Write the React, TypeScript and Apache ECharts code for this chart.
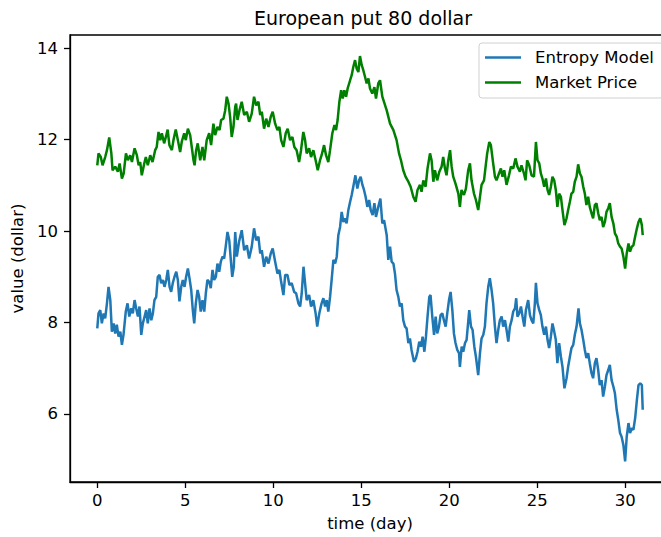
import React, { useEffect, useRef } from "react";
import * as echarts from "echarts";

// Daily values of the 80-dollar European put, [time (day), value (dollar)]
const entropyModel: [number, number][] = [
  [0, 7.87], [0.07, 8.2], [0.17, 8.27], [0.26, 7.98], [0.36, 8.2], [0.45, 8.09], [0.55, 8.42], [0.64, 8.78],
  [0.74, 8.49], [0.83, 7.8], [0.93, 7.98], [1.02, 7.76], [1.11, 7.95], [1.21, 7.69], [1.31, 7.8], [1.4, 7.51],
  [1.49, 7.73], [1.62, 8.24], [1.72, 8.42], [1.82, 8.13], [1.93, 8.31], [2.02, 8.2], [2.12, 8.49], [2.21, 8.31],
  [2.31, 8.13], [2.4, 8.35], [2.5, 7.73], [2.59, 7.98], [2.69, 8.13], [2.78, 8.27], [2.87, 7.98], [2.97, 8.31],
  [3.07, 8.05], [3.16, 8.2], [3.25, 8.49], [3.35, 8.56], [3.44, 9.0], [3.54, 9.04], [3.63, 8.86], [3.73, 8.93],
  [3.82, 8.78], [3.92, 8.93], [4.01, 9.15], [4.11, 8.78], [4.2, 8.67], [4.29, 8.86], [4.39, 9.0], [4.49, 9.11],
  [4.58, 8.93], [4.67, 8.46], [4.77, 8.78], [4.86, 8.93], [4.96, 8.78], [5.05, 9.0], [5.15, 9.18], [5.24, 8.97],
  [5.34, 8.71], [5.43, 8.27], [5.51, 7.98], [5.6, 8.42], [5.7, 8.71], [5.79, 8.56], [5.88, 8.24], [5.98, 8.49],
  [6.08, 8.24], [6.17, 8.64], [6.26, 8.93], [6.36, 8.89], [6.45, 8.75], [6.55, 9.15], [6.64, 8.93], [6.74, 9.0],
  [6.83, 9.29], [6.93, 9.11], [7.02, 9.33], [7.12, 9.44], [7.21, 9.4], [7.3, 9.66], [7.4, 9.98], [7.5, 9.8],
  [7.59, 9.37], [7.67, 9.0], [7.76, 9.22], [7.84, 9.98], [7.93, 9.44], [8.06, 9.77], [8.21, 10.02], [8.35, 9.58],
  [8.5, 9.69], [8.63, 9.4], [8.78, 9.66], [8.91, 10.06], [9.03, 9.8], [9.16, 9.88], [9.26, 9.51], [9.35, 9.58],
  [9.48, 9.22], [9.6, 9.44], [9.73, 9.29], [9.86, 9.51], [9.97, 9.62], [10.11, 9.33], [10.24, 9.07], [10.35, 9.15],
  [10.45, 8.89], [10.58, 8.6], [10.68, 9.04], [10.81, 9.04], [10.92, 8.82], [11.05, 8.86], [11.19, 8.67], [11.3, 8.64],
  [11.43, 8.42], [11.53, 8.35], [11.62, 8.64], [11.72, 9.22], [11.81, 8.86], [11.9, 8.49], [12.04, 8.6], [12.15, 8.35],
  [12.28, 8.49], [12.41, 8.2], [12.5, 7.91], [12.62, 8.2], [12.75, 8.42], [12.85, 8.53], [12.95, 8.35], [13.04, 8.49],
  [13.13, 8.24], [13.23, 8.56], [13.32, 8.93], [13.42, 9.37], [13.52, 9.29], [13.61, 9.44], [13.7, 9.91], [13.8, 10.09],
  [13.89, 10.42], [13.99, 10.2], [14.08, 10.28], [14.17, 10.17], [14.27, 10.46], [14.37, 10.64], [14.46, 10.79], [14.55, 10.97],
  [14.67, 11.22], [14.78, 10.93], [14.88, 11.11], [14.97, 11.19], [15.07, 11.01], [15.16, 10.9], [15.25, 10.75], [15.35, 10.53],
  [15.45, 10.68], [15.54, 10.46], [15.65, 10.35], [15.75, 10.61], [15.84, 10.31], [15.97, 10.53], [16.09, 10.71], [16.2, 10.17],
  [16.3, 10.24], [16.45, 9.91], [16.54, 9.37], [16.64, 9.66], [16.73, 9.33], [16.83, 9.29], [16.92, 9.07], [17.01, 8.71],
  [17.11, 8.56], [17.2, 8.35], [17.3, 8.42], [17.39, 8.05], [17.49, 7.91], [17.58, 7.87], [17.68, 7.55], [17.77, 7.65],
  [17.86, 7.4], [18.0, 7.14], [18.11, 7.22], [18.2, 7.36], [18.3, 7.58], [18.4, 7.47], [18.49, 7.69], [18.59, 7.36],
  [18.68, 7.69], [18.77, 8.13], [18.87, 8.56], [18.94, 8.6], [19.04, 8.13], [19.14, 7.73], [19.23, 8.13], [19.32, 7.76],
  [19.42, 7.91], [19.51, 8.16], [19.61, 8.2], [19.7, 8.05], [19.8, 7.91], [19.89, 8.2], [19.99, 8.49], [20.08, 8.67],
  [20.18, 8.27], [20.27, 7.76], [20.36, 7.55], [20.46, 7.4], [20.56, 7.33], [20.61, 7.03], [20.71, 7.47], [20.8, 7.36],
  [20.9, 7.55], [20.99, 7.62], [21.09, 8.05], [21.14, 8.27], [21.24, 7.91], [21.33, 7.84], [21.43, 7.47], [21.52, 7.25],
  [21.65, 6.85], [21.75, 7.33], [21.84, 7.65], [21.94, 7.73], [22.03, 7.91], [22.12, 8.42], [22.22, 8.78], [22.31, 8.97],
  [22.41, 8.71], [22.5, 8.42], [22.6, 7.91], [22.69, 7.55], [22.79, 7.84], [22.88, 8.05], [22.98, 8.13], [23.07, 7.91],
  [23.17, 8.05], [23.26, 7.84], [23.36, 7.58], [23.45, 7.91], [23.55, 8.05], [23.64, 8.24], [23.74, 8.31], [23.81, 8.53],
  [23.88, 8.13], [23.98, 8.2], [24.08, 8.35], [24.17, 8.13], [24.27, 7.91], [24.36, 8.27], [24.49, 8.49], [24.59, 8.16],
  [24.68, 8.05], [24.78, 7.98], [24.87, 8.42], [24.93, 8.87], [25.02, 8.42], [25.12, 8.27], [25.21, 8.16], [25.3, 7.91],
  [25.4, 7.73], [25.5, 7.91], [25.59, 7.62], [25.68, 7.44], [25.78, 7.69], [25.87, 7.98], [25.97, 7.8], [26.06, 7.62],
  [26.15, 7.11], [26.25, 7.55], [26.35, 7.25], [26.44, 7.03], [26.55, 6.56], [26.67, 6.78], [26.76, 7.03], [26.86, 7.25],
  [26.95, 7.44], [27.05, 7.51], [27.14, 7.73], [27.24, 7.91], [27.35, 8.31], [27.43, 7.98], [27.52, 7.84], [27.62, 7.62],
  [27.71, 7.4], [27.8, 7.22], [27.9, 7.33], [27.99, 7.11], [28.09, 6.89], [28.18, 6.78], [28.28, 7.11], [28.37, 7.22],
  [28.47, 6.96], [28.56, 6.63], [28.66, 6.74], [28.75, 6.38], [28.85, 6.6], [28.94, 6.85], [29.04, 6.96], [29.13, 7.07],
  [29.23, 6.74], [29.33, 6.6], [29.42, 6.45], [29.52, 6.09], [29.61, 5.87], [29.71, 5.58], [29.8, 5.5], [29.9, 5.32],
  [30.0, 4.96], [30.09, 5.5], [30.19, 5.8], [30.28, 5.58], [30.38, 5.69], [30.47, 5.65], [30.57, 5.91], [30.67, 6.31],
  [30.76, 6.63], [30.86, 6.67], [30.95, 6.63], [31.0, 6.09],
];

const marketPrice: [number, number][] = [
  [0, 11.44], [0.07, 11.7], [0.2, 11.62], [0.3, 11.44], [0.45, 11.62], [0.55, 11.77], [0.68, 12.05], [0.8, 11.7],
  [0.87, 11.33], [1.02, 11.41], [1.17, 11.3], [1.27, 11.48], [1.4, 11.15], [1.5, 11.26], [1.63, 11.7], [1.74, 11.55],
  [1.87, 11.66], [1.97, 11.51], [2.12, 11.81], [2.25, 11.66], [2.35, 11.44], [2.44, 11.51], [2.53, 11.22], [2.67, 11.48],
  [2.76, 11.62], [2.87, 11.44], [3.01, 11.66], [3.14, 11.51], [3.29, 11.77], [3.38, 11.84], [3.48, 12.17], [3.58, 11.99],
  [3.67, 12.14], [3.8, 11.92], [3.9, 12.06], [4.0, 12.22], [4.1, 11.88], [4.24, 11.77], [4.33, 11.99], [4.46, 12.22],
  [4.58, 11.99], [4.71, 11.73], [4.8, 11.95], [4.94, 12.14], [5.03, 11.99], [5.15, 12.24], [5.28, 12.1], [5.37, 11.84],
  [5.47, 11.55], [5.53, 11.44], [5.62, 11.77], [5.71, 11.92], [5.85, 11.55], [5.98, 11.84], [6.08, 11.55], [6.22, 11.99],
  [6.36, 12.14], [6.47, 11.88], [6.6, 12.35], [6.7, 12.1], [6.83, 12.28], [6.95, 12.21], [7.04, 12.43], [7.17, 12.46],
  [7.27, 12.64], [7.36, 12.94], [7.46, 12.79], [7.55, 12.5], [7.64, 12.06], [7.74, 12.28], [7.84, 12.72], [7.89, 12.79],
  [7.97, 12.43], [8.08, 12.64], [8.21, 12.83], [8.35, 12.54], [8.5, 12.61], [8.63, 12.39], [8.78, 12.57], [8.91, 12.94],
  [9.03, 12.75], [9.16, 12.83], [9.26, 12.54], [9.35, 12.61], [9.48, 12.24], [9.6, 12.46], [9.73, 12.28], [9.86, 12.5],
  [9.97, 12.61], [10.11, 12.35], [10.24, 12.21], [10.35, 12.28], [10.45, 11.99], [10.58, 11.84], [10.71, 12.14], [10.82, 12.24],
  [10.96, 11.99], [11.09, 12.06], [11.2, 11.84], [11.33, 11.77], [11.47, 11.51], [11.58, 11.77], [11.71, 12.17], [11.81, 11.99],
  [11.9, 11.7], [12.04, 11.81], [12.15, 11.62], [12.28, 11.77], [12.41, 11.55], [12.53, 11.33], [12.66, 11.55], [12.75, 11.66],
  [12.89, 11.88], [13.0, 11.66], [13.13, 11.51], [13.23, 11.77], [13.36, 12.14], [13.48, 12.32], [13.57, 12.21], [13.66, 12.43],
  [13.76, 12.83], [13.86, 13.08], [13.95, 12.9], [14.04, 13.08], [14.14, 12.94], [14.23, 13.12], [14.37, 13.3], [14.46, 13.41],
  [14.55, 13.59], [14.65, 13.74], [14.74, 13.56], [14.84, 13.48], [14.93, 13.83], [15.03, 13.63], [15.12, 13.52], [15.22, 13.37],
  [15.31, 13.23], [15.41, 13.34], [15.5, 13.12], [15.63, 13.01], [15.75, 13.15], [15.84, 12.9], [15.97, 13.23], [16.07, 13.3],
  [16.2, 12.94], [16.45, 12.64], [16.64, 12.35], [16.83, 12.21], [17.01, 11.99], [17.15, 11.7], [17.26, 11.55], [17.39, 11.33],
  [17.52, 11.19], [17.68, 11.08], [17.81, 10.97], [17.96, 10.75], [18.09, 10.64], [18.2, 10.9], [18.34, 11.01], [18.43, 10.86],
  [18.53, 11.11], [18.66, 10.97], [18.77, 11.37], [18.91, 11.7], [19.0, 11.55], [19.1, 11.08], [19.19, 11.33], [19.32, 11.11],
  [19.44, 11.3], [19.57, 11.41], [19.66, 11.62], [19.76, 11.37], [19.85, 11.22], [19.95, 11.55], [20.05, 11.77], [20.14, 11.41],
  [20.23, 11.19], [20.36, 11.04], [20.52, 10.82], [20.61, 10.53], [20.7, 10.9], [20.84, 10.79], [20.95, 10.93], [21.08, 11.33],
  [21.18, 11.48], [21.27, 11.11], [21.41, 10.82], [21.52, 10.68], [21.65, 10.46], [21.75, 10.75], [21.84, 11.01], [21.98, 11.11],
  [22.07, 11.41], [22.16, 11.7], [22.28, 11.95], [22.37, 11.88], [22.5, 11.48], [22.6, 11.19], [22.69, 11.11], [22.83, 11.26],
  [22.94, 11.37], [23.03, 11.19], [23.13, 11.33], [23.26, 11.01], [23.4, 11.22], [23.51, 11.41], [23.64, 11.37], [23.77, 11.59],
  [23.88, 11.41], [24.02, 11.3], [24.11, 11.44], [24.25, 11.26], [24.34, 11.11], [24.43, 11.55], [24.55, 11.44], [24.68, 11.22],
  [24.82, 11.19], [24.93, 11.95], [25.02, 11.55], [25.12, 11.48], [25.21, 11.26], [25.3, 11.15], [25.4, 10.97], [25.5, 11.15],
  [25.59, 10.9], [25.68, 10.79], [25.78, 10.97], [25.87, 11.19], [25.97, 11.11], [26.06, 10.9], [26.15, 10.53], [26.25, 10.82],
  [26.35, 10.75], [26.44, 10.46], [26.55, 10.13], [26.67, 10.28], [26.76, 10.46], [26.86, 10.64], [26.95, 10.82], [27.05, 10.86],
  [27.14, 11.08], [27.24, 11.19], [27.33, 11.46], [27.43, 11.26], [27.52, 11.19], [27.62, 10.97], [27.71, 10.82], [27.8, 10.57],
  [27.9, 10.75], [27.99, 10.53], [28.09, 10.39], [28.18, 10.28], [28.28, 10.57], [28.37, 10.61], [28.47, 10.39], [28.56, 10.24],
  [28.66, 10.31], [28.75, 10.09], [28.85, 10.2], [28.94, 10.42], [29.04, 10.5], [29.13, 10.61], [29.23, 10.31], [29.33, 10.17],
  [29.42, 9.95], [29.52, 9.88], [29.61, 9.73], [29.71, 9.66], [29.8, 9.62], [29.9, 9.44], [30.0, 9.18], [30.09, 9.51],
  [30.19, 9.73], [30.28, 9.55], [30.38, 9.66], [30.47, 9.69], [30.57, 9.88], [30.67, 10.06], [30.76, 10.2], [30.86, 10.28],
  [30.95, 10.13], [31.0, 9.91],
];

const seriesNames = ["Entropy Model", "Market Price"];
const seriesColors = ["#1f77b4", "#008000"];
const xTicks = [0, 5, 10, 15, 20, 25, 30];
const yTicks = [6, 8, 10, 12, 14];

const FONT = "DejaVu Sans";

export default function App() {
  const ref = useRef<HTMLDivElement>(null);

  useEffect(() => {
    if (!ref.current) return;
    const chart = echarts.init(ref.current, undefined, { renderer: "svg" });
    const axisText = { color: "#000", fontFamily: FONT, fontSize: 16.5 };

    chart.setOption({
      animation: false,
      backgroundColor: "#fff",
      textStyle: { fontFamily: FONT },
      grid: {
        left: 70,
        top: 35,
        width: 600,
        height: 447,
        show: true,
        borderColor: "#000",
        borderWidth: 1.3,
        backgroundColor: "transparent",
      },
      graphic: [
        {
          type: "text",
          x: 363,
          y: 18,
          style: {
            text: "European put 80 dollar",
            fill: "#000",
            fontFamily: FONT,
            fontSize: 19,
            align: "center",
            verticalAlign: "middle",
          },
        },
      ],
      legend: {
        orient: "vertical",
        left: 479,
        top: 43,
        padding: [6, 9, 7, 6],
        itemGap: 8,
        itemWidth: 36,
        itemHeight: 2.5,
        icon: "rect",
        borderColor: "#d0d0d0",
        borderWidth: 1,
        borderRadius: 3,
        backgroundColor: "rgba(255,255,255,0.8)",
        textStyle: {
          color: "#000",
          fontFamily: FONT,
          fontSize: 16.5,
          lineHeight: 17,
          padding: [0, 0, 0, 9],
        },
        data: seriesNames,
      },
      xAxis: {
        type: "value",
        min: -1.55,
        max: 32.55,
        name: "time (day)",
        nameLocation: "middle",
        nameGap: 33,
        nameTextStyle: axisText,
        axisLine: { show: true, onZero: false, lineStyle: { color: "#000", width: 1.3 } },
        axisTick: { show: true, length: 6, customValues: xTicks, lineStyle: { color: "#000", width: 1.3 } },
        axisLabel: { ...axisText, margin: 10, customValues: xTicks },
        splitLine: { show: false },
      },
      yAxis: {
        type: "value",
        min: 4.51,
        max: 14.29,
        name: "value (dollar)",
        nameLocation: "middle",
        nameGap: 40,
        nameTextStyle: axisText,
        axisLine: { show: true, onZero: false, lineStyle: { color: "#000", width: 1.3 } },
        axisTick: { show: true, length: 6, customValues: yTicks, lineStyle: { color: "#000", width: 1.3 } },
        axisLabel: { ...axisText, margin: 12, customValues: yTicks },
        splitLine: { show: false },
      },
      series: [
        {
          name: seriesNames[0],
          type: "line",
          data: entropyModel,
          symbol: "none",
          color: seriesColors[0],
          lineStyle: { color: seriesColors[0], width: 2.5 },
          z: 2,
        },
        {
          name: seriesNames[1],
          type: "line",
          data: marketPrice,
          symbol: "none",
          color: seriesColors[1],
          lineStyle: { color: seriesColors[1], width: 2.5 },
          z: 3,
        },
      ],
    });

    return () => chart.dispose();
  }, []);

  // The plot area runs past the right edge of the visible frame, so the
  // chart is drawn wider than its clipping wrapper.
  return (
    <div
      style={{
        position: "fixed",
        left: 0,
        top: 0,
        width: 661,
        height: 537,
        overflow: "hidden",
        background: "#fff",
      }}
    >
      <div ref={ref} style={{ width: 690, height: 537 }} />
    </div>
  );
}
